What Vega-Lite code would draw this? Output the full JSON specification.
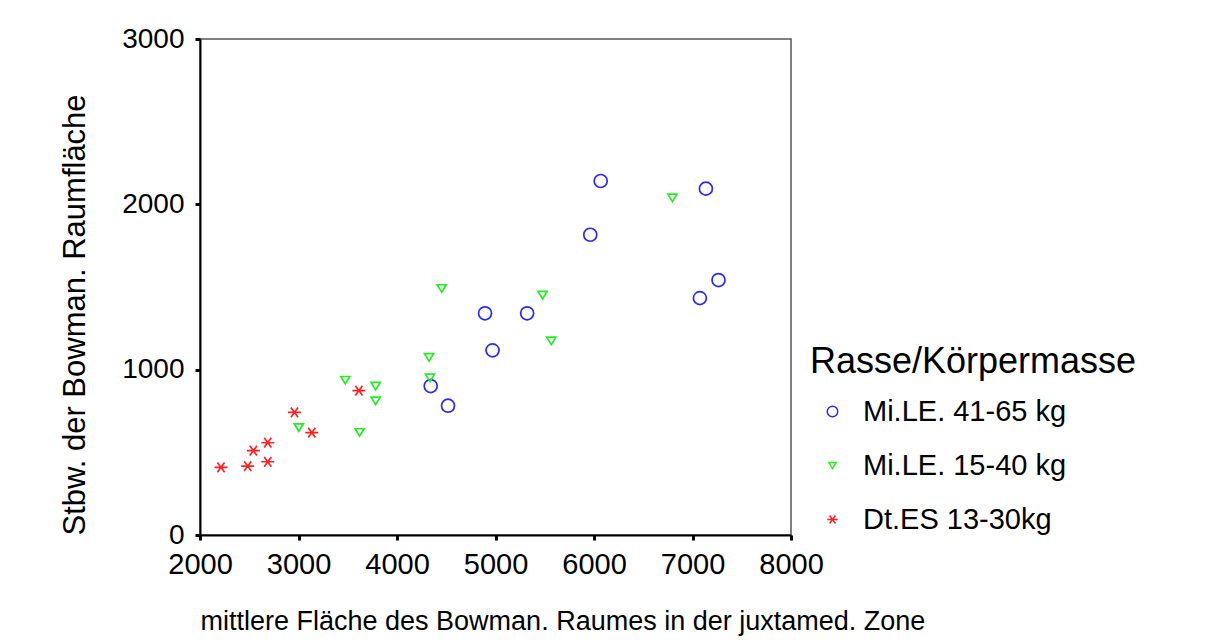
{
  "$schema": "https://vega.github.io/schema/vega-lite/v6.json",
  "width": 591,
  "height": 496,
  "autosize": {"type": "none"},
  "padding": {"left": 200, "top": 39, "right": 422, "bottom": 109},
  "background": "white",
  "config": {
    "font": "Liberation Sans",
    "view": {"stroke": "#555555", "strokeWidth": 1.5},
    "axis": {
      "grid": false,
      "domainColor": "black",
      "domainWidth": 2,
      "tickColor": "black",
      "tickWidth": 3,
      "tickSize": 5,
      "labelColor": "black",
      "labelFont": "Liberation Sans",
      "labelFontSize": 29,
      "titleColor": "black",
      "titleFont": "Liberation Sans",
      "titleFontWeight": "normal"
    },
    "legend": {
      "titleFont": "Liberation Sans",
      "labelFont": "Liberation Sans"
    }
  },
  "data": {
    "values": [
      {"group": "Mi.LE. 41-65 kg", "flaeche": 6068, "stbw": 2141},
      {"group": "Mi.LE. 41-65 kg", "flaeche": 7136, "stbw": 2095},
      {"group": "Mi.LE. 41-65 kg", "flaeche": 5962, "stbw": 1816},
      {"group": "Mi.LE. 41-65 kg", "flaeche": 7264, "stbw": 1542},
      {"group": "Mi.LE. 41-65 kg", "flaeche": 7075, "stbw": 1433},
      {"group": "Mi.LE. 41-65 kg", "flaeche": 4894, "stbw": 1341},
      {"group": "Mi.LE. 41-65 kg", "flaeche": 5321, "stbw": 1341},
      {"group": "Mi.LE. 41-65 kg", "flaeche": 4970, "stbw": 1117},
      {"group": "Mi.LE. 41-65 kg", "flaeche": 4342, "stbw": 901},
      {"group": "Mi.LE. 41-65 kg", "flaeche": 4518, "stbw": 782},
      {"group": "Mi.LE. 15-40 kg", "flaeche": 3003, "stbw": 651},
      {"group": "Mi.LE. 15-40 kg", "flaeche": 3620, "stbw": 621},
      {"group": "Mi.LE. 15-40 kg", "flaeche": 3783, "stbw": 901},
      {"group": "Mi.LE. 15-40 kg", "flaeche": 3783, "stbw": 812},
      {"group": "Mi.LE. 15-40 kg", "flaeche": 3475, "stbw": 937},
      {"group": "Mi.LE. 15-40 kg", "flaeche": 4454, "stbw": 1492},
      {"group": "Mi.LE. 15-40 kg", "flaeche": 5478, "stbw": 1452},
      {"group": "Mi.LE. 15-40 kg", "flaeche": 5566, "stbw": 1175},
      {"group": "Mi.LE. 15-40 kg", "flaeche": 4325, "stbw": 1075},
      {"group": "Mi.LE. 15-40 kg", "flaeche": 4335, "stbw": 951},
      {"group": "Mi.LE. 15-40 kg", "flaeche": 6796, "stbw": 2040},
      {"group": "Dt.ES 13-30kg", "flaeche": 2213, "stbw": 409},
      {"group": "Dt.ES 13-30kg", "flaeche": 2484, "stbw": 417},
      {"group": "Dt.ES 13-30kg", "flaeche": 2542, "stbw": 510},
      {"group": "Dt.ES 13-30kg", "flaeche": 2688, "stbw": 558},
      {"group": "Dt.ES 13-30kg", "flaeche": 2688, "stbw": 443},
      {"group": "Dt.ES 13-30kg", "flaeche": 2959, "stbw": 742},
      {"group": "Dt.ES 13-30kg", "flaeche": 3135, "stbw": 619},
      {"group": "Dt.ES 13-30kg", "flaeche": 3613, "stbw": 873}
    ]
  },
  "mark": {"type": "point", "filled": false, "size": 169, "strokeWidth": 1.7, "opacity": 1},
  "encoding": {
    "x": {
      "field": "flaeche",
      "type": "quantitative",
      "scale": {"domain": [2000, 8000], "nice": false, "zero": false},
      "axis": {
        "values": [2000, 3000, 4000, 5000, 6000, 7000, 8000],
        "format": "d",
        "labelPadding": 10,
        "labelFlush": false,
        "title": "mittlere Fläche des Bowman. Raumes in der juxtamed. Zone",
        "titleFontSize": 27,
        "titleAnchor": "start",
        "titlePadding": 29
      }
    },
    "y": {
      "field": "stbw",
      "type": "quantitative",
      "scale": {"domain": [0, 3000], "nice": false},
      "axis": {
        "values": [0, 1000, 2000, 3000],
        "format": "d",
        "labelFontSize": 28,
        "labelPadding": 11,
        "labelFlush": false,
        "title": "Stbw. der Bowman. Raumfläche",
        "titleFontSize": 31,
        "titleAnchor": "start",
        "titlePadding": 30
      }
    },
    "color": {
      "field": "group",
      "type": "nominal",
      "scale": {
        "domain": ["Mi.LE. 41-65 kg", "Mi.LE. 15-40 kg", "Dt.ES 13-30kg"],
        "range": ["#2a2af0", "#22ee22", "#ff2222"]
      },
      "legend": {
        "title": "Rasse/Körpermasse",
        "orient": "none",
        "legendX": 610,
        "legendY": 306,
        "padding": 0,
        "titleFontSize": 36,
        "titleFontWeight": "normal",
        "titleColor": "black",
        "titleLimit": 600,
        "titlePadding": 16,
        "labelFontSize": 29,
        "labelColor": "black",
        "labelLimit": 500,
        "labelOffset": 16,
        "rowPadding": 24,
        "symbolOffset": 8,
        "symbolSize": 110,
        "symbolStrokeWidth": 1.5,
        "symbolFillColor": "transparent"
      }
    },
    "shape": {
      "field": "group",
      "type": "nominal",
      "scale": {
        "domain": ["Mi.LE. 41-65 kg", "Mi.LE. 15-40 kg", "Dt.ES 13-30kg"],
        "range": ["circle", "M-0.7,-0.55L0.7,-0.55L0,0.6Z", "M-1,0L1,0M-0.55,-0.75L0.55,0.75M-0.55,0.75L0.55,-0.75"]
      }
    }
  }
}
